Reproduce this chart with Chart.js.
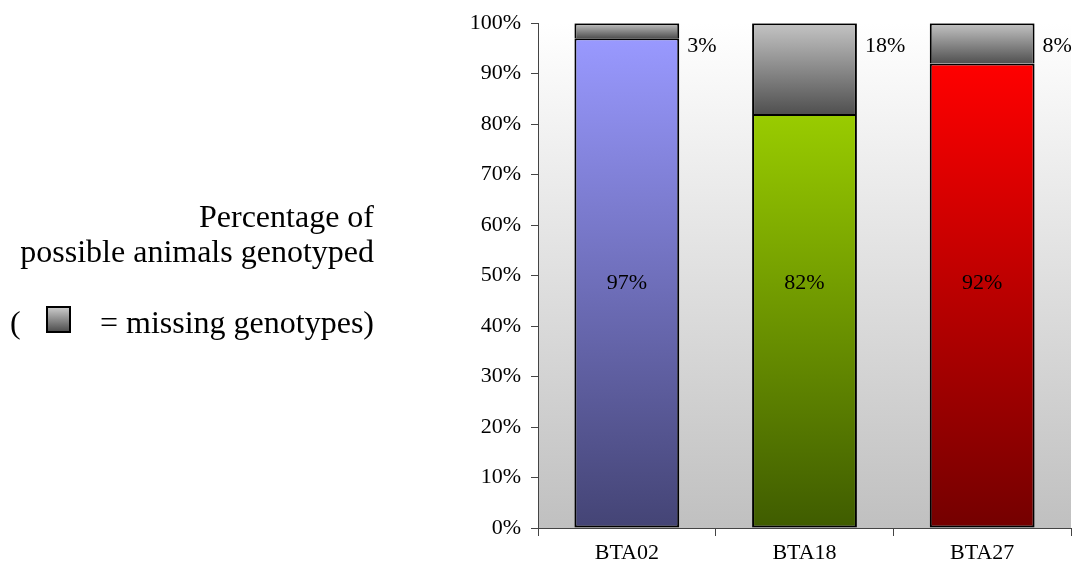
<!DOCTYPE html>
<html>
<head>
<meta charset="utf-8">
<script src="https://cdn.jsdelivr.net/npm/chart.js@4/dist/chart.umd.min.js"></script>
<style>
  html, body { margin: 0; padding: 0; background: #ffffff; }
  #wrap { position: relative; width: 1083px; height: 567px; overflow: hidden; }
  #c { position: absolute; left: 0; top: 0; }
  .t { position: absolute; font-family: "Liberation Serif", "Times New Roman", serif; font-size: 32px; line-height: 36px; color: #000; white-space: nowrap; }
  .r { right: 709px; text-align: right; }
  #sq { position: absolute; left: 46px; top: 306px; width: 21px; height: 23px; border: 2px solid #000;
        background: linear-gradient(to bottom, #c8c8c8, #505050); }
</style>
</head>
<body>
<div id="wrap">
  <canvas id="c" width="1083" height="567"></canvas>
  <div class="t r" style="top:198px;">Percentage of</div>
  <div class="t r" style="top:233px;">possible animals genotyped</div>
  <div class="t" style="left:10px; top:304px;">(</div>
  <div id="sq"></div>
  <div class="t r" style="top:304px;">= missing genotypes)</div>
</div>
<script>
// ---- data ----
const categories = ["BTA02", "BTA18", "BTA27"];
const genotyped = [97, 82, 92];
const missing = [3, 18, 8];
const yTicks = [0, 10, 20, 30, 40, 50, 60, 70, 80, 90, 100];

// ---- styles ----
const barTop = ["#9999ff", "#99cc00", "#ff0000"];
const barBottom = ["#444475", "#3f5c00", "#740000"];
const missTop = "#c4c4c4";
const missBottom = "#505050";
const FONT = "'Liberation Serif', 'Times New Roman', serif";
const INSIDE_LABEL_AT = 48.5;   // axis value where inner labels sit
const OUTSIDE_LABEL_AT = 95.5;  // axis value where outer labels sit

function grad(ctx, y0, y1, c0, c1) {
  const g = ctx.createLinearGradient(0, y0, 0, y1);
  g.addColorStop(0, c0);
  g.addColorStop(1, c1);
  return g;
}

const bgPlugin = {
  id: "bg",
  beforeDraw(chart) {
    const { ctx, chartArea: a } = chart;
    ctx.save();
    ctx.fillStyle = grad(ctx, a.top, a.bottom, "#ffffff", "#c0c0c0");
    ctx.fillRect(a.left, a.top, a.right - a.left, a.bottom - a.top);
    ctx.restore();
  }
};

const labelPlugin = {
  id: "labels",
  afterDatasetsDraw(chart) {
    const { ctx } = chart;
    const y = chart.scales.y;
    const meta = chart.getDatasetMeta(0);
    ctx.save();
    ctx.font = "22px " + FONT;
    ctx.fillStyle = "#000";
    ctx.textBaseline = "middle";
    meta.data.forEach((bar, i) => {
      ctx.textAlign = "center";
      ctx.fillText(genotyped[i] + "%", bar.x, y.getPixelForValue(INSIDE_LABEL_AT));
      ctx.textAlign = "left";
      ctx.fillText(missing[i] + "%", bar.x + bar.width / 2 + 8, y.getPixelForValue(OUTSIDE_LABEL_AT));
    });
    ctx.restore();
  }
};

new Chart(document.getElementById("c"), {
  type: "bar",
  data: {
    labels: categories,
    datasets: [
      {
        label: "genotyped",
        data: genotyped,
        backgroundColor(c) {
          const chart = c.chart;
          if (!chart.chartArea) return barTop[c.dataIndex];
          const y = chart.scales.y;
          return grad(chart.ctx, y.getPixelForValue(genotyped[c.dataIndex]), y.getPixelForValue(0),
                      barTop[c.dataIndex], barBottom[c.dataIndex]);
        },
        borderColor: "#000",
        borderWidth: 2,
        borderSkipped: false,
        inflateAmount: 0
      },
      {
        label: "missing",
        data: missing,
        backgroundColor(c) {
          const chart = c.chart;
          if (!chart.chartArea) return missTop;
          const y = chart.scales.y;
          return grad(chart.ctx, y.getPixelForValue(100), y.getPixelForValue(genotyped[c.dataIndex]),
                      missTop, missBottom);
        },
        borderColor: "#000",
        borderWidth: 2,
        borderSkipped: "bottom",
        inflateAmount: 0
      }
    ]
  },
  options: {
    responsive: false,
    animation: false,
    devicePixelRatio: 1,
    layout: { padding: { left: 468, right: 12, top: 22, bottom: 0 } },
    plugins: { legend: { display: false }, tooltip: { enabled: false } },
    datasets: { bar: { categoryPercentage: 1, barPercentage: 0.59 } },
    scales: {
      x: {
        stacked: true,
        offset: true,
        afterFit(s) { s.height = 39; },
        border: { display: true, color: "#444", width: 1 },
        grid: { display: true, offset: true, drawOnChartArea: false, drawTicks: true, tickLength: 8, color: "#444" },
        ticks: { color: "#000", font: { family: FONT, size: 22 }, padding: 4 }
      },
      y: {
        stacked: true,
        min: 0,
        max: 100,
        afterFit(s) { s.width = 70; },
        afterBuildTicks(s) { s.ticks = yTicks.map(v => ({ value: v })); },
        border: { display: true, color: "#444", width: 1 },
        grid: { display: true, drawOnChartArea: false, drawTicks: true, tickLength: 7, color: "#444" },
        ticks: { color: "#000", font: { family: FONT, size: 22 }, padding: 10, callback: v => v + "%" }
      }
    }
  },
  plugins: [bgPlugin, labelPlugin]
});
</script>
</body>
</html>
